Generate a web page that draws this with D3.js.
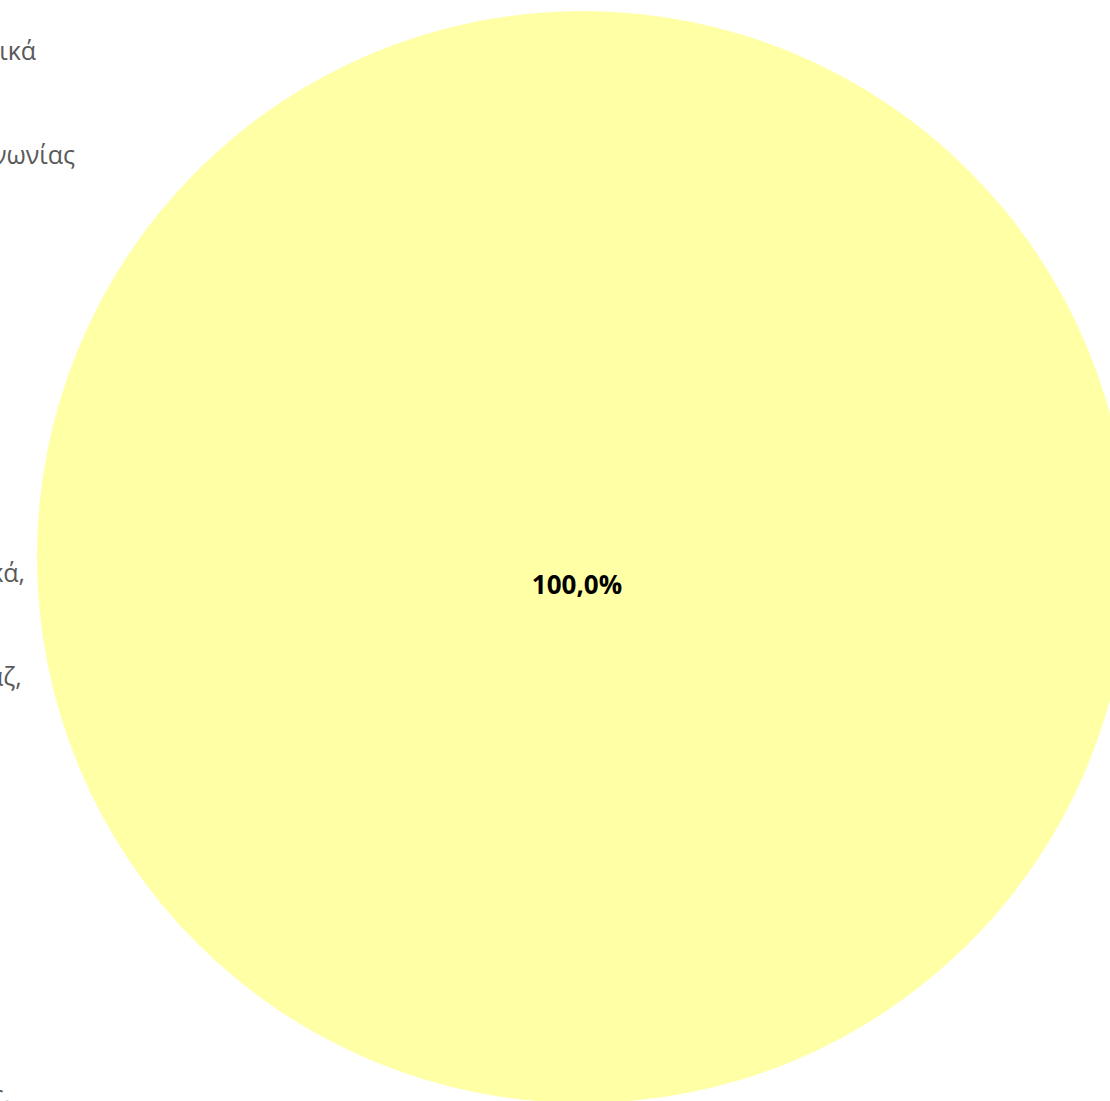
<!DOCTYPE html>
<html><head><meta charset="utf-8">
<script src="https://cdn.jsdelivr.net/npm/d3@7"></script>
<style>html,body{margin:0;padding:0;background:#fff;overflow:hidden}</style>
</head><body>
<svg id="chart" width="1110" height="1101"></svg>
<script>
const categories = [
  "Τρόφιμα, ποτά και παντοπωλικά\nείδη, καθώς και\nείδη\nκαθαριότητας",
  "Υπηρεσίες κινητής τηλεπικοινωνίας\nκαι διαδικτύου",
  "Ένδυση, υπόδηση\nκαι αξεσουάρ\nμόδας",
  "Έπιπλα και είδη\nοικιακού\nεξοπλισμού",
  "Καλλυντικά και\nείδη προσωπικής\nφροντίδας",
  "Βιβλία, μουσική\nκαι ταινίες",
  "Ταξίδια, διαμονή\nκαι μεταφορές\nεσωτερικού",
  "Παιχνίδια, είδη χόμπι, σχολικά,\nποδήλατα και\nεξοπλισμός\nκατασκήνωσης",
  "Υλικά κήπου, εργαλεία, γκαράζ,\nείδη\nμαστορέματος\nκαι επισκευών",
  "Ηλεκτρονικές\nσυσκευές και\nυπολογιστές\nπεριφερειακά",
  "Υπηρεσίες\nεστίασης και\nπαράδοσης\nφαγητού",
  "Εισιτήρια για\nεκδηλώσεις\nκαι θεάματα\nπολιτισμού",
  "Λοιπές κατηγορίες υπηρεσίας,\nασφάλειες και\nχρηματοοικονομικά\nπροϊόντα"
];
const values = [0, 0, 0, 0, 0, 0, 0, 0, 0, 0, 0, 0, 100];
const colors = ["#4472c4","#ed7d31","#a5a5a5","#ffc000","#5b9bd5","#70ad47","#264478","#9e480e","#636363","#997300","#255e91","#43682b","#ffffa6"];
const labelFormat = v => d3.format(".1f")(v).replace(".", ",") + "%";

const svg = d3.select("#chart");
const cx = 583, cy = 557, R = 546;
const total = d3.sum(values);
const data = categories.map((c, i) => ({cat: c, value: values[i], color: colors[i]}));

const pie = d3.pie().value(d => d.value).sort(null);
const arc = d3.arc().innerRadius(0).outerRadius(R);
const labelArc = d3.arc().innerRadius(27).outerRadius(27);

const g = svg.append("g").attr("transform", `translate(${cx},${cy})`);
const arcs = pie(data);
g.selectAll("path").data(arcs).join("path")
  .attr("d", arc).attr("fill", d => d.data.color);

g.selectAll("text.lbl").data(arcs.filter(d => d.value > 0)).join("text")
  .attr("class", "lbl")
  .attr("x", d => labelArc.centroid(d)[0] - 6)
  .attr("y", d => labelArc.centroid(d)[1])
  .attr("text-anchor", "middle").attr("dominant-baseline", "central")
  .style("font-family", "'Open Sans', sans-serif").style("font-weight", "bold")
  .style("font-size", "26px").attr("fill", "#000")
  .text(d => labelFormat(d.value / total * 100));

// legend (extends beyond the left edge of the view)
const legX = -344, lineH = 26.1, firstY = 50;
const lg = svg.append("g").attr("class", "legend");
let line = 0;
data.forEach(d => {
  const lines = d.cat.split("\n");
  const y0 = firstY + line * lineH;
  lg.append("rect").attr("x", legX - 26).attr("y", y0 - 7).attr("width", 14).attr("height", 14).attr("fill", d.color);
  lines.forEach((t, k) => {
    lg.append("text").attr("x", legX).attr("y", firstY + (line + k) * lineH)
      .attr("dominant-baseline", "central")
      .style("font-family", "'Open Sans', sans-serif").style("font-size", "25px")
      .attr("fill", "#595959").text(t);
  });
  line += lines.length;
});
</script>
</body></html>
